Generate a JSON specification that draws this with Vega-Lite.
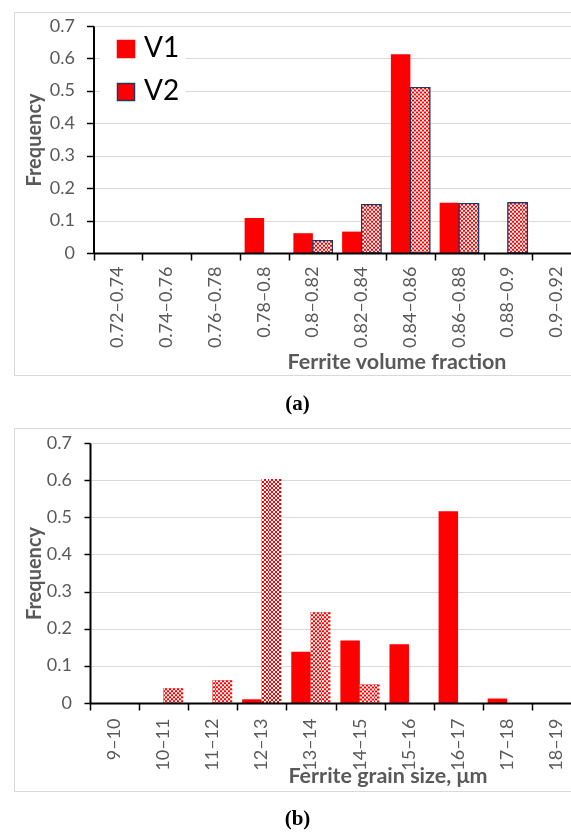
{
  "$schema": "https://vega.github.io/schema/vega-lite/v6.json",
  "background": "white",
  "padding": {"left": 4, "top": 11, "right": 0, "bottom": 0},
  "autosize": {"type": "pad"},
  "spacing": 12,
  "config": {"font": "Lato"},
  "datasets": {
    "a": [
      {"bin": "0.78–0.8", "series": "V1", "freq": 0.108},
      {"bin": "0.8–0.82", "series": "V1", "freq": 0.061},
      {"bin": "0.8–0.82", "series": "V2", "freq": 0.038},
      {"bin": "0.82–0.84", "series": "V1", "freq": 0.066},
      {"bin": "0.82–0.84", "series": "V2", "freq": 0.149},
      {"bin": "0.84–0.86", "series": "V1", "freq": 0.613},
      {"bin": "0.84–0.86", "series": "V2", "freq": 0.51},
      {"bin": "0.86–0.88", "series": "V1", "freq": 0.155},
      {"bin": "0.86–0.88", "series": "V2", "freq": 0.152},
      {"bin": "0.88–0.9", "series": "V2", "freq": 0.155}
    ],
    "b": [
      {"bin": "10–11", "series": "V2", "freq": 0.04},
      {"bin": "11–12", "series": "V2", "freq": 0.061},
      {"bin": "12–13", "series": "V1", "freq": 0.01},
      {"bin": "12–13", "series": "V2", "freq": 0.603},
      {"bin": "13–14", "series": "V1", "freq": 0.138},
      {"bin": "13–14", "series": "V2", "freq": 0.244},
      {"bin": "14–15", "series": "V1", "freq": 0.168},
      {"bin": "14–15", "series": "V2", "freq": 0.05},
      {"bin": "15–16", "series": "V1", "freq": 0.158},
      {"bin": "16–17", "series": "V1", "freq": 0.516},
      {"bin": "17–18", "series": "V1", "freq": 0.012}
    ]
  },
  "vconcat": [
    {
      "width": 559,
      "height": 363,
      "view": {"stroke": "#D9D9D9", "strokeWidth": 1},
      "title": {"text": "(a)", "orient": "bottom", "font": "Liberation Serif", "fontSize": 21, "fontWeight": "bold", "color": "black", "offset": 18, "anchor": "middle", "dx": 4},
      "data": {"name": "a"},
      "encoding": {
        "x": {"field": "bin", "type": "nominal", "sort": null,
          "scale": {"domain": ["0.72–0.74", "0.74–0.76", "0.76–0.78", "0.78–0.8", "0.8–0.82", "0.82–0.84", "0.84–0.86", "0.86–0.88", "0.88–0.9", "0.9–0.92"], "range": [79.5, 567], "paddingInner": 0, "paddingOuter": 0},
          "axis": {"title": "Ferrite volume fraction", "orient": "bottom", "offset": -122, "tickBand": "extent", "labelAngle": 270, "labelAlign": "right", "labelBaseline": "middle", "labelPadding": 6, "tickSize": 7, "tickColor": "black", "tickWidth": 1.5, "domainColor": "black", "domainWidth": 2, "labelFont": "Lato", "labelFontSize": 18, "labelColor": "#595959", "titleFont": "Lato", "titleFontSize": 21.5, "titleFontWeight": "bold", "titleColor": "#595959", "titleX": 492, "titleY": 115, "titleAlign": "right", "titleBaseline": "alphabetic", "grid": false, "zindex": 1}},
        "xOffset": {"field": "series", "type": "nominal", "scale": {"domain": ["V1", "V2"], "paddingInner": 0, "paddingOuter": 0.25}},
        "y": {"field": "freq", "type": "quantitative",
          "scale": {"domain": [0, 0.7], "range": [241, 14], "nice": false},
          "axis": {"title": "Frequency", "offset": -79.5, "values": [0, 0.1, 0.2, 0.3, 0.4, 0.5, 0.6, 0.7], "format": "~g", "grid": true, "gridColor": "#D9D9D9", "gridWidth": 1, "tickSize": 7, "tickColor": "black", "tickWidth": 1.5, "domainColor": "black", "domainWidth": 2, "labelPadding": 12, "labelFont": "Lato", "labelFontSize": 18, "labelColor": "#595959", "titleFont": "Lato", "titleFontSize": 20, "titleFontWeight": "bold", "titleColor": "#595959", "titleX": -53, "titleBaseline": "alphabetic"}}
      },
      "layer": [
        {
          "transform": [{"filter": "datum.series === 'V1'"}],
          "mark": {"type": "bar", "fill": "#FF0000"},
          "encoding": {
            "color": {"field": "series", "type": "nominal", "scale": {"domain": ["V1", "V2"], "range": ["#FF0000", "#FF0000"]},
              "legend": {"orient": "none", "legendX": 86, "legendY": 17, "title": null, "direction": "vertical", "symbolType": "square", "symbolSize": 289, "symbolOffset": 6, "labelOffset": 4, "labelFont": "Lato", "labelFontSize": 28, "labelColor": "black", "rowPadding": 15, "padding": 6, "fillColor": "white",
                "encode": {"symbols": {"update": {
                  "fill": [{"test": "datum.value === 'V2'", "value": {"gradient": "linear", "x1": 0, "y1": 0, "x2": 1, "y2": 0, "stops": [{"offset": 0, "color": "#ff0000"}, {"offset": 0.1, "color": "#ff0000"}, {"offset": 0.1, "color": "#ffffff"}, {"offset": 0.2, "color": "#ffffff"}, {"offset": 0.2, "color": "#ff0000"}, {"offset": 0.3, "color": "#ff0000"}, {"offset": 0.3, "color": "#ffffff"}, {"offset": 0.4, "color": "#ffffff"}, {"offset": 0.4, "color": "#ff0000"}, {"offset": 0.5, "color": "#ff0000"}, {"offset": 0.5, "color": "#ffffff"}, {"offset": 0.6, "color": "#ffffff"}, {"offset": 0.6, "color": "#ff0000"}, {"offset": 0.7, "color": "#ff0000"}, {"offset": 0.7, "color": "#ffffff"}, {"offset": 0.8, "color": "#ffffff"}, {"offset": 0.8, "color": "#ff0000"}, {"offset": 0.9, "color": "#ff0000"}, {"offset": 0.9, "color": "#ffffff"}, {"offset": 1, "color": "#ffffff"}]}}, {"value": "#FF0000"}],
                  "stroke": [{"test": "datum.value === 'V2'", "value": "#1F3864"}, {"value": "#FF0000"}],
                  "strokeWidth": {"value": 1.5},
                  "opacity": {"value": 1}
                }}}}}
          }
        },
        {
          "transform": [{"filter": "datum.series === 'V2'"}],
          "mark": {"type": "bar", "fill": {"gradient": "linear", "x1": 0, "y1": 0, "x2": 1, "y2": 0, "stops": [{"offset": 0, "color": "#ff0000"}, {"offset": 0.1, "color": "#ff0000"}, {"offset": 0.1, "color": "#ffffff"}, {"offset": 0.2, "color": "#ffffff"}, {"offset": 0.2, "color": "#ff0000"}, {"offset": 0.3, "color": "#ff0000"}, {"offset": 0.3, "color": "#ffffff"}, {"offset": 0.4, "color": "#ffffff"}, {"offset": 0.4, "color": "#ff0000"}, {"offset": 0.5, "color": "#ff0000"}, {"offset": 0.5, "color": "#ffffff"}, {"offset": 0.6, "color": "#ffffff"}, {"offset": 0.6, "color": "#ff0000"}, {"offset": 0.7, "color": "#ff0000"}, {"offset": 0.7, "color": "#ffffff"}, {"offset": 0.8, "color": "#ffffff"}, {"offset": 0.8, "color": "#ff0000"}, {"offset": 0.9, "color": "#ff0000"}, {"offset": 0.9, "color": "#ffffff"}, {"offset": 1, "color": "#ffffff"}]}}
        },
        {
          "transform": [{"filter": "datum.series === 'V2'"}],
          "mark": {"type": "rule", "stroke": "#00FFFF", "strokeWidth": 19.5, "strokeDash": [2, 2], "strokeCap": "butt", "blend": "difference"},
          "encoding": {"y2": {"datum": 0}}
        },
        {
          "transform": [{"filter": "datum.series === 'V2'"}],
          "mark": {"type": "bar", "fill": "transparent", "stroke": "#1F3864", "strokeWidth": 1.3}
        }
      ]
    },
    {
      "width": 559,
      "height": 363,
      "view": {"stroke": "#D9D9D9", "strokeWidth": 1},
      "title": {"text": "(b)", "orient": "bottom", "font": "Liberation Serif", "fontSize": 21, "fontWeight": "bold", "color": "black", "offset": 17, "anchor": "middle", "dx": 4},
      "data": {"name": "b"},
      "encoding": {
        "x": {"field": "bin", "type": "nominal", "sort": null,
          "scale": {"domain": ["9–10", "10–11", "11–12", "12–13", "13–14", "14–15", "15–16", "16–17", "17–18", "18–19"], "range": [76, 567], "paddingInner": 0, "paddingOuter": 0},
          "axis": {"title": "Ferrite grain size, μm", "orient": "bottom", "offset": -88, "tickBand": "extent", "labelAngle": 270, "labelAlign": "right", "labelBaseline": "middle", "labelPadding": 8, "tickSize": 7, "tickColor": "black", "tickWidth": 1.5, "domainColor": "black", "domainWidth": 2, "labelFont": "Lato", "labelFontSize": 18, "labelColor": "#595959", "titleFont": "Lato", "titleFontSize": 21.5, "titleFontWeight": "bold", "titleColor": "#595959", "titleX": 473, "titleY": 79, "titleAlign": "right", "titleBaseline": "alphabetic", "grid": false, "zindex": 1}},
        "xOffset": {"field": "series", "type": "nominal", "scale": {"domain": ["V1", "V2"], "paddingInner": 0, "paddingOuter": 0.24}},
        "y": {"field": "freq", "type": "quantitative",
          "scale": {"domain": [0, 0.7], "range": [275, 15], "nice": false},
          "axis": {"title": "Frequency", "offset": -76, "values": [0, 0.1, 0.2, 0.3, 0.4, 0.5, 0.6, 0.7], "format": "~g", "grid": true, "gridColor": "#D9D9D9", "gridWidth": 1, "tickSize": 6, "tickColor": "black", "tickWidth": 1.5, "domainColor": "black", "domainWidth": 2, "labelPadding": 12.5, "labelFont": "Lato", "labelFontSize": 18, "labelColor": "#595959", "titleFont": "Lato", "titleFontSize": 20, "titleFontWeight": "bold", "titleColor": "#595959", "titleX": -49.5, "titleBaseline": "alphabetic"}}
      },
      "layer": [
        {
          "transform": [{"filter": "datum.series === 'V1'"}],
          "mark": {"type": "bar", "fill": "#FF0000"},
          "encoding": {
            "color": {"field": "series", "type": "nominal", "scale": {"domain": ["V1", "V2"], "range": ["#FF0000", "#FF0000"]},
              "legend": {"orient": "none", "legendX": 81, "legendY": 16, "title": null, "direction": "vertical", "symbolType": "square", "symbolSize": 289, "symbolOffset": 2, "labelOffset": 4, "labelFont": "Lato", "labelFontSize": 28, "labelColor": "black", "rowPadding": 13.5, "padding": 6, "fillColor": "white",
                "encode": {"symbols": {"update": {
                  "fill": [{"test": "datum.value === 'V2'", "value": {"gradient": "linear", "x1": 0, "y1": 0, "x2": 1, "y2": 0, "stops": [{"offset": 0, "color": "#ff0000"}, {"offset": 0.1, "color": "#ff0000"}, {"offset": 0.1, "color": "#ffffff"}, {"offset": 0.2, "color": "#ffffff"}, {"offset": 0.2, "color": "#ff0000"}, {"offset": 0.3, "color": "#ff0000"}, {"offset": 0.3, "color": "#ffffff"}, {"offset": 0.4, "color": "#ffffff"}, {"offset": 0.4, "color": "#ff0000"}, {"offset": 0.5, "color": "#ff0000"}, {"offset": 0.5, "color": "#ffffff"}, {"offset": 0.6, "color": "#ffffff"}, {"offset": 0.6, "color": "#ff0000"}, {"offset": 0.7, "color": "#ff0000"}, {"offset": 0.7, "color": "#ffffff"}, {"offset": 0.8, "color": "#ffffff"}, {"offset": 0.8, "color": "#ff0000"}, {"offset": 0.9, "color": "#ff0000"}, {"offset": 0.9, "color": "#ffffff"}, {"offset": 1, "color": "#ffffff"}]}}, {"value": "#FF0000"}],
                  "strokeWidth": {"value": 0},
                  "opacity": {"value": 1}
                }}}}}
          }
        },
        {
          "transform": [{"filter": "datum.series === 'V2'"}],
          "mark": {"type": "bar", "fill": {"gradient": "linear", "x1": 0, "y1": 0, "x2": 1, "y2": 0, "stops": [{"offset": 0, "color": "#ff0000"}, {"offset": 0.1, "color": "#ff0000"}, {"offset": 0.1, "color": "#ffffff"}, {"offset": 0.2, "color": "#ffffff"}, {"offset": 0.2, "color": "#ff0000"}, {"offset": 0.3, "color": "#ff0000"}, {"offset": 0.3, "color": "#ffffff"}, {"offset": 0.4, "color": "#ffffff"}, {"offset": 0.4, "color": "#ff0000"}, {"offset": 0.5, "color": "#ff0000"}, {"offset": 0.5, "color": "#ffffff"}, {"offset": 0.6, "color": "#ffffff"}, {"offset": 0.6, "color": "#ff0000"}, {"offset": 0.7, "color": "#ff0000"}, {"offset": 0.7, "color": "#ffffff"}, {"offset": 0.8, "color": "#ffffff"}, {"offset": 0.8, "color": "#ff0000"}, {"offset": 0.9, "color": "#ff0000"}, {"offset": 0.9, "color": "#ffffff"}, {"offset": 1, "color": "#ffffff"}]}}
        },
        {
          "transform": [{"filter": "datum.series === 'V2'"}],
          "mark": {"type": "rule", "stroke": "#00FFFF", "strokeWidth": 19.8, "strokeDash": [2, 2], "strokeCap": "butt", "blend": "difference"},
          "encoding": {"y2": {"datum": 0}}
        }
      ]
    }
  ]
}
